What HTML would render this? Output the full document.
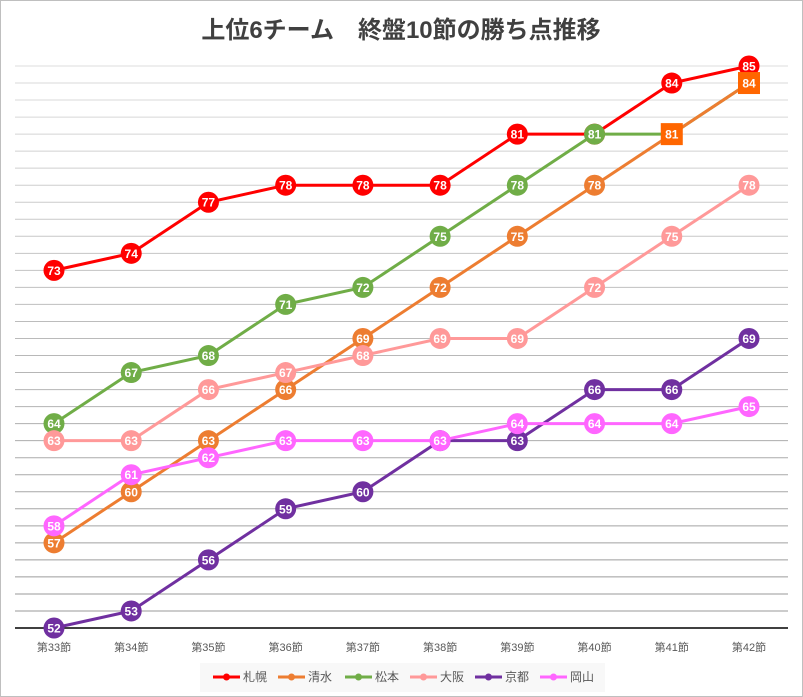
<!DOCTYPE html>
<html><head><meta charset="utf-8"><style>
body{margin:0;background:#fff;}
svg{display:block;font-family:"Liberation Sans","Noto Sans CJK JP",sans-serif;}
</style></head><body>
<svg id="chart" width="803" height="697" viewBox="0 0 803 697" xmlns="http://www.w3.org/2000/svg">
<rect x="0.5" y="0.5" width="802" height="696" fill="#fff" stroke="#bfbfbf"/>
<text x="401" y="38" text-anchor="middle" font-size="24" font-weight="bold" fill="#404040">上位6チーム　終盤10節の勝ち点推移</text>
<g id="grid"></g><g id="xlabels"></g><g id="series"></g>
<rect x="200" y="663" width="405" height="29" fill="#f8f8f8"/>
<g id="legend"></g>
</svg>
<script>
const categories=["第33節","第34節","第35節","第36節","第37節","第38節","第39節","第40節","第41節","第42節"];
const teamNames=["札幌","清水","松本","大阪","京都","岡山"];
const sapporo=[73,74,77,78,78,78,81,81,84,85];
const shimizu=[57,60,63,66,69,72,75,78,81,84];
const matsumoto=[64,67,68,71,72,75,78,81,81,84];
const osaka=[63,63,66,67,68,69,69,72,75,78];
const kyoto=[52,53,56,59,60,63,63,66,66,69];
const okayama=[58,61,62,63,63,63,64,64,64,65];
const yMin=52,yMax=85;
const colors=["#ff0000","#ed7d31","#70ad47","#ff9999","#7030a0","#ff66ff"];
const NS="http://www.w3.org/2000/svg";
const x=i=>54+i*(749-54)/(categories.length-1);
const y=v=>628-(v-yMin)*(628-66)/(yMax-yMin);
function mk(t,a,p){const e=document.createElementNS(NS,t);for(const k in a)e.setAttribute(k,a[k]);p.appendChild(e);return e;}
const grid=document.getElementById('grid');
for(let v=yMin+1;v<=yMax;v++){
  const f=(v-yMin)/(yMax-yMin);const c=Math.round(150+f*70);
  const l=mk('line',{x1:15,x2:788,y1:y(v),y2:y(v),stroke:`rgb(${c},${c},${c})`,'stroke-width':1},grid);
  
  
}
const ax=mk('line',{x1:15,x2:788,y1:y(yMin),y2:y(yMin),stroke:'#404040','stroke-width':2},grid);


const xl=document.getElementById('xlabels');
categories.forEach((c,i)=>{const t=mk('text',{x:x(i),y:651,'text-anchor':'middle','font-size':11,fill:'#595959'},xl);t.textContent=c;

});
const all=[sapporo,shimizu,matsumoto,osaka,kyoto,okayama];
const sg=document.getElementById('series');
const drawOrder=[0,2,1,3,4,5];
drawOrder.forEach(s=>{
  const d=all[s];const g=mk('g',{},sg);
  
  
  const ln=mk('polyline',{points:d.map((v,i)=>x(i)+','+y(v)).join(' '),fill:'none',stroke:colors[s],'stroke-width':3},g);
  
  
  d.forEach((v,i)=>{
    let m;
    if(s===1&&i>=d.length-2){m=mk('rect',{x:x(i)-11,y:y(v)-11,width:22,height:22,fill:'#ff6600'},g);}
    else m=mk('circle',{cx:x(i),cy:y(v),r:10.5,fill:colors[s]},g);
    
    
    const t=mk('text',{x:x(i),y:y(v)+4.5,'text-anchor':'middle','font-size':12,'font-weight':'bold',fill:'#fff'},g);
    t.textContent=v;
    
    
  });
});
const lg=document.getElementById('legend');
const lx=[213,278,345,410,475,540];
teamNames.forEach((n,i)=>{const g=mk('g',{},lg);
  
  
  mk('line',{x1:lx[i],x2:lx[i]+27,y1:677,y2:677,stroke:colors[i],'stroke-width':3},g);
  mk('circle',{cx:lx[i]+13.5,cy:677,r:3.5,fill:colors[i]},g);
  const t=mk('text',{x:lx[i]+30,y:681,'font-size':12,fill:'#595959'},g);t.textContent=n;});
</script>
</body></html>
